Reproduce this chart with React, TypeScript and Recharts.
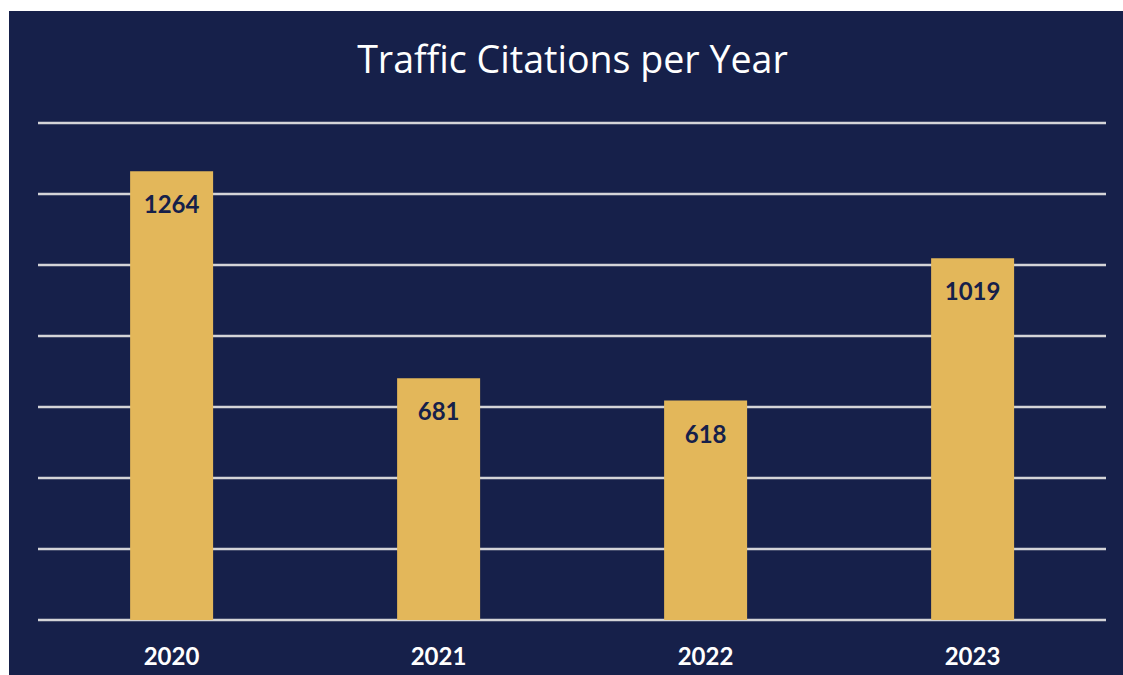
import React from "react";
import { BarChart, Bar, XAxis, YAxis, CartesianGrid, LabelList } from "recharts";

const years = ["2020", "2021", "2022", "2023"];
const citations = [1264, 681, 618, 1019];
const yTicks = [0, 200, 400, 600, 800, 1000, 1200, 1400];

const data = years.map((y, i) => ({ year: y, value: citations[i] }));

const NAVY = "#16204a";
const GOLD = "#e3b75a";
const FONT = "Lato, 'Open Sans', sans-serif";

export default function App() {
  return (
    <>
      <style>{`html,body{margin:0;padding:0;overflow:hidden;background:#ffffff;}`}</style>
      <div style={{ position: "absolute", left: 9, top: 11, width: 1114, height: 664, background: NAVY, overflow: "hidden" }}>
        <div
          style={{
            position: "absolute",
            left: 13,
            right: 0,
            top: 22,
            textAlign: "center",
            color: "#ffffff",
            fontFamily: "'Open Sans', sans-serif",
            fontSize: 37.6,
            whiteSpace: "nowrap",
          }}
        >
          Traffic Citations per Year
        </div>
        <BarChart
          width={1114}
          height={664}
          data={data}
          margin={{ top: 112, right: 17, bottom: 15, left: 29 }}
          barCategoryGap="34.5%"
        >
          <CartesianGrid vertical={false} stroke="#d4d4d8" strokeWidth={2.5} />
          <YAxis hide domain={[0, 1400]} ticks={yTicks} />
          <XAxis
            dataKey="year"
            axisLine={false}
            tickLine={false}
            tickSize={0}
            tickMargin={28}
            height={40}
            tick={{ fill: "#ffffff", fontSize: 24, fontWeight: 700, fontFamily: FONT }}
          />
          <Bar dataKey="value" fill={GOLD} isAnimationActive={false}>
            <LabelList
              dataKey="value"
              position="insideTop"
              offset={25}
              fill={NAVY}
              style={{ fontSize: 24, fontWeight: 700, fontFamily: FONT }}
            />
          </Bar>
        </BarChart>
      </div>
    </>
  );
}
